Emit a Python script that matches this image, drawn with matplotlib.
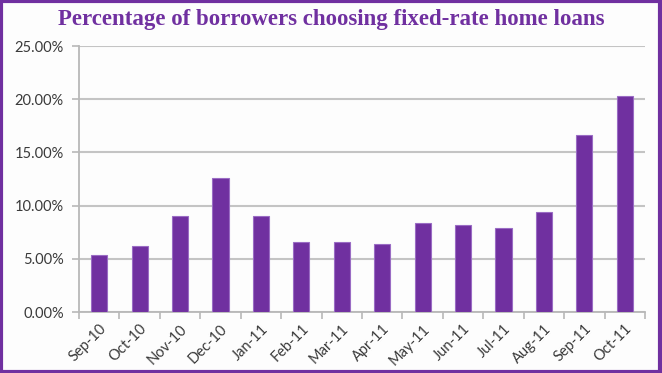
import numpy as np
import matplotlib
matplotlib.use('Agg')
import matplotlib.pyplot as plt
from matplotlib.patches import Rectangle
from matplotlib.ticker import FuncFormatter, FixedLocator

# data
months = ['Sep-10', 'Oct-10', 'Nov-10', 'Dec-10', 'Jan-11', 'Feb-11', 'Mar-11',
          'Apr-11', 'May-11', 'Jun-11', 'Jul-11', 'Aug-11', 'Sep-11', 'Oct-11']
fixed_pct = [5.4, 6.2, 9.0, 12.6, 9.0, 6.6, 6.6,
             6.35, 8.35, 8.2, 7.85, 9.4, 16.6, 20.3]
y_ticks = [0, 5, 10, 15, 20, 25]

PURPLE = '#7030A0'
W, H = 662, 373

fig = plt.figure(figsize=(W / 100, H / 100), dpi=100, facecolor='#fdfdfd')
ax = fig.add_axes([79 / W, 1 - 312 / H, (645 - 79) / W, (312 - 46) / H])
ax.set_facecolor('#fdfdfd')

x = np.arange(len(months))
ax.bar(x, fixed_pct, width=0.4, color=PURPLE, edgecolor='#9a6cc4',
       linewidth=0.8, zorder=3)

ax.set_xlim(-0.5, len(months) - 0.5)
ax.set_ylim(0, 25)
ax.set_yticks(y_ticks)
ax.yaxis.set_major_formatter(FuncFormatter(lambda v, p: f'{v:.2f}%'))
ax.yaxis.grid(True, color='#c4c4c4', linewidth=1.5, zorder=0)

# category labels centred under bars, ticks on category boundaries
ax.set_xticks(x)
ax.set_xticklabels(months, rotation=45, ha='right', rotation_mode='anchor')
ax.xaxis.set_minor_locator(FixedLocator(np.arange(-0.5, len(months), 1.0)))
ax.tick_params(axis='x', which='major', length=0, pad=7)
ax.tick_params(axis='x', which='minor', length=5, color='#b8b8b8', width=1.2)
ax.tick_params(axis='y', length=5, color='#b8b8b8', width=1.2, pad=6)

for lab in ax.get_xticklabels() + ax.get_yticklabels():
    lab.set_family('Lato')
    lab.set_fontsize(10.5)
    lab.set_color('#3a3a3a')

for side in ['top', 'right']:
    ax.spines[side].set_visible(False)
for side in ['left', 'bottom']:
    ax.spines[side].set_color('#b8b8b8')
    ax.spines[side].set_linewidth(1.3)

fig.text(331 / W, 1 - 19 / H, 'Percentage of borrowers choosing fixed-rate home loans',
         ha='center', va='center', color=PURPLE, fontsize=16.5,
         fontweight='bold', family='Liberation Serif')

# purple frame around the whole picture
fig.patches.append(Rectangle((0.002, 0.004), 0.995, 0.992, transform=fig.transFigure,
                             fill=False, edgecolor=PURPLE, linewidth=3))

fig.savefig('out.png', dpi=100, facecolor=fig.get_facecolor())
